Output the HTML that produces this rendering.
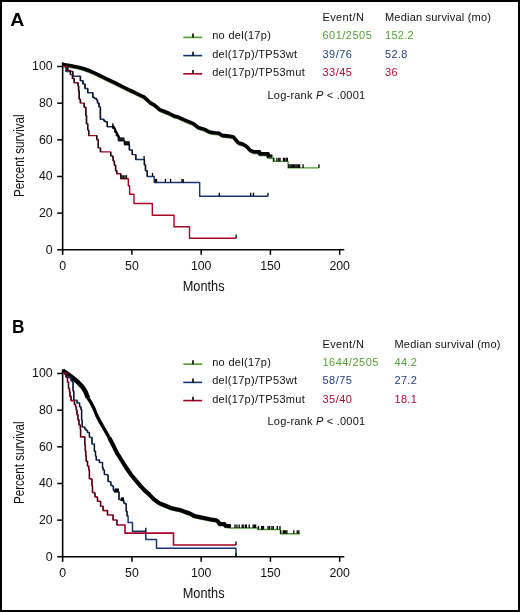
<!DOCTYPE html>
<html><head><meta charset="utf-8"><style>
html,body{margin:0;padding:0;background:#fff;}
body{width:520px;height:612px;overflow:hidden;position:relative;font-family:"Liberation Sans", sans-serif;}
svg{position:absolute;left:0;top:0;will-change:transform;}
svg text{font-family:"Liberation Sans", sans-serif;}
</style></head><body>
<svg width="520" height="612" viewBox="0 0 520 612" fill="#111">
<rect x="1" y="1" width="518" height="610" fill="#fff" stroke="#000" stroke-width="2"/>
<text transform="translate(10.3,25.8) scale(1.06,1)" font-size="18.4" font-weight="bold" style="fill:#000">A</text>
<text transform="translate(12.1,332.9) scale(0.94,1)" font-size="18.4" font-weight="bold" style="fill:#000">B</text>
<path d="M183.3,37.40 H202.2" stroke="#4f9c2c" stroke-width="1.6"/>
<path d="M193,37.40 v-3.9" stroke="#000" stroke-width="1.6"/>
<text x="212.2" y="39.30" font-size="11" letter-spacing="0.3">no del(17p)</text>
<text x="322.4" y="39.30" font-size="11" letter-spacing="0.5" fill="#55a033">601/2505</text>
<text x="385.0" y="39.30" font-size="11" letter-spacing="0.3" fill="#55a033">152.2</text>
<path d="M183.3,55.60 H202.2" stroke="#173570" stroke-width="1.6"/>
<path d="M193,55.60 v-3.9" stroke="#000" stroke-width="1.6"/>
<text x="212.2" y="57.55" font-size="11" letter-spacing="0.3">del(17p)/TP53wt</text>
<text x="322.4" y="57.55" font-size="11" letter-spacing="0.5" fill="#22418a">39/76</text>
<text x="385.0" y="57.55" font-size="11" letter-spacing="0.3" fill="#22418a">52.8</text>
<path d="M183.3,73.80 H202.2" stroke="#a60327" stroke-width="1.6"/>
<path d="M193,73.80 v-3.9" stroke="#000" stroke-width="1.6"/>
<text x="212.2" y="75.80" font-size="11" letter-spacing="0.3">del(17p)/TP53mut</text>
<text x="322.4" y="75.80" font-size="11" letter-spacing="0.5" fill="#ad0d35">33/45</text>
<text x="385.0" y="75.80" font-size="11" letter-spacing="0.3" fill="#ad0d35">36</text>
<text x="322.4" y="21.30" font-size="11" letter-spacing="0.4">Event/N</text>
<text x="385.0" y="21.30" font-size="11" letter-spacing="0.2">Median survival (mo)</text>
<text x="267.5" y="98.50" font-size="11" letter-spacing="0.22">Log-rank <tspan font-style="italic">P</tspan> &lt; .0001</text>
<path d="M183.3,364.20 H202.2" stroke="#4f9c2c" stroke-width="1.6"/>
<path d="M193,364.20 v-3.9" stroke="#000" stroke-width="1.6"/>
<text x="212.2" y="366.10" font-size="11" letter-spacing="0.3">no del(17p)</text>
<text x="322.4" y="366.10" font-size="11" letter-spacing="0.5" fill="#55a033">1644/2505</text>
<text x="394.5" y="366.10" font-size="11" letter-spacing="0.3" fill="#55a033">44.2</text>
<path d="M183.3,382.40 H202.2" stroke="#173570" stroke-width="1.6"/>
<path d="M193,382.40 v-3.9" stroke="#000" stroke-width="1.6"/>
<text x="212.2" y="384.35" font-size="11" letter-spacing="0.3">del(17p)/TP53wt</text>
<text x="322.4" y="384.35" font-size="11" letter-spacing="0.5" fill="#22418a">58/75</text>
<text x="394.5" y="384.35" font-size="11" letter-spacing="0.3" fill="#22418a">27.2</text>
<path d="M183.3,400.60 H202.2" stroke="#a60327" stroke-width="1.6"/>
<path d="M193,400.60 v-3.9" stroke="#000" stroke-width="1.6"/>
<text x="212.2" y="402.60" font-size="11" letter-spacing="0.3">del(17p)/TP53mut</text>
<text x="322.4" y="402.60" font-size="11" letter-spacing="0.5" fill="#ad0d35">35/40</text>
<text x="394.5" y="402.60" font-size="11" letter-spacing="0.3" fill="#ad0d35">18.1</text>
<text x="322.4" y="348.10" font-size="11" letter-spacing="0.4">Event/N</text>
<text x="394.5" y="348.10" font-size="11" letter-spacing="0.2">Median survival (mo)</text>
<text x="267.5" y="425.30" font-size="11" letter-spacing="0.22">Log-rank <tspan font-style="italic">P</tspan> &lt; .0001</text>
<path d="M62.65,62.2 V254.8" stroke="#000" stroke-width="1.6" fill="none"/>
<path d="M57.2,249.8 H344.3" stroke="#000" stroke-width="1.6" fill="none"/>
<text transform="translate(52.6,253.70) scale(0.95,1)" font-size="13" text-anchor="end">0</text>
<path d="M57.2,213.14 H62.65" stroke="#000" stroke-width="1.5"/>
<text transform="translate(52.6,217.04) scale(0.95,1)" font-size="13" text-anchor="end">20</text>
<path d="M57.2,176.48 H62.65" stroke="#000" stroke-width="1.5"/>
<text transform="translate(52.6,180.38) scale(0.95,1)" font-size="13" text-anchor="end">40</text>
<path d="M57.2,139.82 H62.65" stroke="#000" stroke-width="1.5"/>
<text transform="translate(52.6,143.72) scale(0.95,1)" font-size="13" text-anchor="end">60</text>
<path d="M57.2,103.16 H62.65" stroke="#000" stroke-width="1.5"/>
<text transform="translate(52.6,107.06) scale(0.95,1)" font-size="13" text-anchor="end">80</text>
<path d="M57.2,66.50 H62.65" stroke="#000" stroke-width="1.5"/>
<text transform="translate(52.6,70.40) scale(0.95,1)" font-size="13" text-anchor="end">100</text>
<text transform="translate(62.65,270.40) scale(0.95,1)" font-size="13" text-anchor="middle">0</text>
<path d="M131.91,249.8 V254.8" stroke="#000" stroke-width="1.5"/>
<text transform="translate(131.91,270.40) scale(0.95,1)" font-size="13" text-anchor="middle">50</text>
<path d="M201.17,249.8 V254.8" stroke="#000" stroke-width="1.5"/>
<text transform="translate(201.17,270.40) scale(0.95,1)" font-size="13" text-anchor="middle">100</text>
<path d="M270.43,249.8 V254.8" stroke="#000" stroke-width="1.5"/>
<text transform="translate(270.43,270.40) scale(0.95,1)" font-size="13" text-anchor="middle">150</text>
<path d="M339.69,249.8 V254.8" stroke="#000" stroke-width="1.5"/>
<text transform="translate(339.69,270.40) scale(0.95,1)" font-size="13" text-anchor="middle">200</text>
<text transform="translate(203.6,290.5) scale(0.875,1)" font-size="14.6" text-anchor="middle">Months</text>
<text transform="translate(23.7,155.7) rotate(-90) scale(0.775,1)" font-size="15" text-anchor="middle">Percent survival</text>
<path d="M62.65,369.2 V561.8" stroke="#000" stroke-width="1.6" fill="none"/>
<path d="M57.2,556.8 H344.3" stroke="#000" stroke-width="1.6" fill="none"/>
<text transform="translate(52.6,560.70) scale(0.95,1)" font-size="13" text-anchor="end">0</text>
<path d="M57.2,520.14 H62.65" stroke="#000" stroke-width="1.5"/>
<text transform="translate(52.6,524.04) scale(0.95,1)" font-size="13" text-anchor="end">20</text>
<path d="M57.2,483.48 H62.65" stroke="#000" stroke-width="1.5"/>
<text transform="translate(52.6,487.38) scale(0.95,1)" font-size="13" text-anchor="end">40</text>
<path d="M57.2,446.82 H62.65" stroke="#000" stroke-width="1.5"/>
<text transform="translate(52.6,450.72) scale(0.95,1)" font-size="13" text-anchor="end">60</text>
<path d="M57.2,410.16 H62.65" stroke="#000" stroke-width="1.5"/>
<text transform="translate(52.6,414.06) scale(0.95,1)" font-size="13" text-anchor="end">80</text>
<path d="M57.2,373.50 H62.65" stroke="#000" stroke-width="1.5"/>
<text transform="translate(52.6,377.40) scale(0.95,1)" font-size="13" text-anchor="end">100</text>
<text transform="translate(62.65,577.40) scale(0.95,1)" font-size="13" text-anchor="middle">0</text>
<path d="M131.91,556.8 V561.8" stroke="#000" stroke-width="1.5"/>
<text transform="translate(131.91,577.40) scale(0.95,1)" font-size="13" text-anchor="middle">50</text>
<path d="M201.17,556.8 V561.8" stroke="#000" stroke-width="1.5"/>
<text transform="translate(201.17,577.40) scale(0.95,1)" font-size="13" text-anchor="middle">100</text>
<path d="M270.43,556.8 V561.8" stroke="#000" stroke-width="1.5"/>
<text transform="translate(270.43,577.40) scale(0.95,1)" font-size="13" text-anchor="middle">150</text>
<path d="M339.69,556.8 V561.8" stroke="#000" stroke-width="1.5"/>
<text transform="translate(339.69,577.40) scale(0.95,1)" font-size="13" text-anchor="middle">200</text>
<text transform="translate(203.6,597.5) scale(0.875,1)" font-size="14.6" text-anchor="middle">Months</text>
<text transform="translate(23.7,462.7) rotate(-90) scale(0.775,1)" font-size="15" text-anchor="middle">Percent survival</text>
<path d="M62.60,66.30 L64.50,66.65 L69.30,67.40 L74.10,68.30 L78.90,69.30 L83.70,70.70 L88.50,72.40 L93.40,74.50 L98.20,76.70 L103.00,79.15 L107.80,81.50 L114.30,84.60 L119.10,87.00 L123.90,89.40 L128.70,91.80 L133.50,93.90 L138.40,96.40 L141.20,97.80 L143.20,98.50 L148.00,102.80 L149.70,104.50 L154.50,107.20 L159.30,111.50 L164.10,113.40 L168.90,115.40 L173.70,117.80 L178.50,119.20 L183.40,121.60 L188.20,123.60 L193.00,125.50 L197.80,129.30 L199.50,129.80 L204.30,131.30 L209.10,133.90 L213.90,134.70 L218.70,135.10 L221.60,137.30 L228.40,138.00 L233.20,138.90 L235.10,141.40 L238.00,144.70 L242.80,146.20 L246.20,148.10 L248.90,151.10 L250.10,152.40 L253.90,153.80 L259.30,153.80 L259.30,155.80 L267.80,155.80 L267.80,158.30 L272.20,158.30" fill="none" stroke="#4f9c2c" stroke-width="1.0" stroke-linejoin="round" stroke-linecap="butt" /><path d="M62.90,64.40 L64.80,64.75 L69.60,65.50 L74.40,66.40 L79.20,67.40 L84.00,68.80 L88.80,70.50 L93.70,72.60 L98.50,74.80 L103.30,77.25 L108.10,79.60 L114.60,82.70 L119.40,85.10 L124.20,87.50 L129.00,89.90 L133.80,92.00 L138.70,94.50 L141.50,95.90 L143.50,96.60 L148.30,100.90 L150.00,102.60 L154.80,105.30 L159.60,109.60 L164.40,111.50 L169.20,113.50 L174.00,115.90 L178.80,117.30 L183.70,119.70 L188.50,121.70 L193.30,123.60 L198.10,127.40 L199.80,127.90 L204.60,129.40 L209.40,132.00 L214.20,132.80 L219.00,133.20 L221.90,135.40 L228.70,136.10 L233.50,137.00 L235.40,139.50 L238.30,142.80 L243.10,144.30 L246.50,146.20 L249.20,149.20 L250.40,150.50 L254.20,151.90 L259.60,151.90 L259.60,153.90 L268.10,153.90 L268.10,156.40 L272.50,156.40" fill="none" stroke="#000" stroke-width="3.6" stroke-linejoin="round" stroke-linecap="butt" />
<path d="M268.10,158.10 L273.30,158.10 L273.30,161.40 L288.10,161.40 L288.10,167.90 L318.80,167.90" fill="none" stroke="#4f9c2c" stroke-width="1.4" stroke-linejoin="round" stroke-linecap="butt" stroke-linecap="square"/>
<path d="M273.8,161.4 v-3.6" stroke="#000" stroke-width="1.3"/><path d="M276.9,161.4 v-3.6" stroke="#000" stroke-width="1.3"/><path d="M278.8,161.4 v-3.6" stroke="#000" stroke-width="1.3"/><path d="M280,161.4 v-3.6" stroke="#000" stroke-width="1.3"/><path d="M283.5,161.4 v-3.6" stroke="#000" stroke-width="1.3"/><path d="M284.6,161.4 v-3.6" stroke="#000" stroke-width="1.3"/><path d="M286.2,161.4 v-3.6" stroke="#000" stroke-width="1.3"/><path d="M287.3,161.4 v-3.6" stroke="#000" stroke-width="1.3"/>
<path d="M288.8,167.9 v-3.6" stroke="#000" stroke-width="1.3"/><path d="M290,167.9 v-3.6" stroke="#000" stroke-width="1.3"/><path d="M291.2,167.9 v-3.6" stroke="#000" stroke-width="1.3"/><path d="M292.4,167.9 v-3.6" stroke="#000" stroke-width="1.3"/><path d="M293.6,167.9 v-3.6" stroke="#000" stroke-width="1.3"/><path d="M294.8,167.9 v-3.6" stroke="#000" stroke-width="1.3"/><path d="M296,167.9 v-3.6" stroke="#000" stroke-width="1.3"/><path d="M297.2,167.9 v-3.6" stroke="#000" stroke-width="1.3"/><path d="M298.4,167.9 v-3.6" stroke="#000" stroke-width="1.3"/><path d="M299.6,167.9 v-3.6" stroke="#000" stroke-width="1.3"/><path d="M303.1,167.9 v-3.6" stroke="#000" stroke-width="1.3"/><path d="M318.9,167.9 v-3.6" stroke="#000" stroke-width="1.3"/>
<path d="M62.65,66.50 L66.20,66.50 L66.20,71.50 L72.80,71.50 L72.80,76.20 L80.40,76.20 L80.40,80.80 L83.00,80.80 L83.00,84.00 L85.00,84.00 L85.00,88.50 L87.70,88.50 L87.70,92.80 L92.80,92.80 L92.80,97.50 L94.60,97.50 L94.60,98.50 L96.50,98.50 L96.50,100.00 L97.50,100.00 L97.50,103.00 L99.00,103.00 L99.00,106.90 L100.40,106.90 L100.40,119.20 L103.80,119.20 L103.80,120.80 L105.00,120.80 L105.00,121.80 L107.30,121.80 L107.30,126.80 L112.70,126.80 L112.70,128.30 L115.00,128.30 L115.00,132.30 L116.50,132.30 L116.50,135.80 L118.50,135.80 L118.50,140.80 L124.50,140.80 L124.50,144.80 L129.40,144.80 L129.40,150.00 L132.30,150.00 L132.30,154.60 L135.80,154.60 L135.80,159.50 L144.40,159.50 L144.40,165.00 L145.50,165.00 L145.50,170.80 L147.30,170.80 L147.30,176.50 L154.20,176.50 L154.20,182.50 L199.70,182.50 L199.70,196.30 L268.00,196.30" fill="none" stroke="#173570" stroke-width="1.4" stroke-linejoin="round" stroke-linecap="butt" stroke-linecap="square"/>
<path d="M66.20,66.50 V71.50 M72.80,71.50 V76.20 M80.40,76.20 V80.80 M83.00,80.80 V84.00 M85.00,84.00 V88.50 M87.70,88.50 V92.80 M92.80,92.80 V97.50 M94.60,97.50 V98.50 M96.50,98.50 V100.00 M97.50,100.00 V103.00 M99.00,103.00 V106.90 M100.40,106.90 V119.20 M103.80,119.20 V120.80 M105.00,120.80 V121.80 M107.30,121.80 V126.80 M112.70,126.80 V128.30 M115.00,128.30 V132.30 M116.50,132.30 V135.80 M118.50,135.80 V140.80 M124.50,140.80 V144.80 M129.40,144.80 V150.00 M132.30,150.00 V154.60 M135.80,154.60 V159.50 M144.40,159.50 V165.00 M145.50,165.00 V170.80 M147.30,170.80 V176.50" stroke="#111" stroke-width="1.4" fill="none"/>

<path d="M144.1,159.5 v-3.6" stroke="#000" stroke-width="1.3"/><path d="M152.5,176.5 v-3.6" stroke="#000" stroke-width="1.3"/><path d="M155.4,182.5 v-3.6" stroke="#000" stroke-width="1.3"/><path d="M156.5,182.5 v-3.6" stroke="#000" stroke-width="1.3"/><path d="M165.4,182.5 v-3.6" stroke="#000" stroke-width="1.3"/><path d="M170.6,182.5 v-3.6" stroke="#000" stroke-width="1.3"/><path d="M182,182.5 v-3.6" stroke="#000" stroke-width="1.3"/><path d="M183.2,182.5 v-3.6" stroke="#000" stroke-width="1.3"/><path d="M219.3,196.3 v-3.6" stroke="#000" stroke-width="1.3"/><path d="M250.7,196.3 v-3.6" stroke="#000" stroke-width="1.3"/><path d="M253.5,196.3 v-3.6" stroke="#000" stroke-width="1.3"/><path d="M268,196.3 v-3.6" stroke="#000" stroke-width="1.3"/>
<path d="M112.8,126.8 v-3.6" stroke="#000" stroke-width="1.3"/><path d="M119.9,141.0 v-3.6" stroke="#000" stroke-width="1.3"/><path d="M120.9,141.0 v-3.6" stroke="#000" stroke-width="1.3"/><path d="M121.9,141.0 v-3.6" stroke="#000" stroke-width="1.3"/><path d="M122.9,141.0 v-3.6" stroke="#000" stroke-width="1.3"/><path d="M123.9,141.0 v-3.6" stroke="#000" stroke-width="1.3"/><path d="M125.2,144.9 v-3.6" stroke="#000" stroke-width="1.3"/><path d="M126.2,144.9 v-3.6" stroke="#000" stroke-width="1.3"/><path d="M127.2,144.9 v-3.6" stroke="#000" stroke-width="1.3"/><path d="M128.2,144.9 v-3.6" stroke="#000" stroke-width="1.3"/><path d="M129.1,144.9 v-3.6" stroke="#000" stroke-width="1.3"/>
<path d="M112.90,125.60 L114.50,128.50 L116.50,132.50 L118.20,135.80 L119.60,138.60" fill="none" stroke="#000" stroke-width="2.2" stroke-linejoin="round" stroke-linecap="butt" />
<path d="M62.65,66.50 L67.70,66.50 L67.70,70.40 L70.40,70.40 L70.40,74.60 L72.50,74.60 L72.50,78.50 L74.20,78.50 L74.20,82.70 L78.10,82.70 L78.10,86.00 L78.60,86.00 L78.60,90.80 L79.20,90.80 L79.20,99.20 L80.40,99.20 L80.40,103.10 L84.20,103.10 L84.20,107.30 L85.80,107.30 L85.80,115.40 L86.50,115.40 L86.50,123.80 L87.70,123.80 L87.70,130.00 L88.70,130.00 L88.70,135.60 L96.80,135.60 L96.80,139.70 L98.30,139.70 L98.30,147.90 L100.50,147.90 L100.50,151.90 L110.70,151.90 L110.70,156.00 L112.80,156.00 L112.80,157.70 L113.20,157.70 L113.20,160.90 L114.40,160.90 L114.40,165.20 L115.60,165.20 L115.60,170.70 L116.80,170.70 L116.80,173.70 L120.80,173.70 L120.80,178.80 L128.30,178.80 L128.30,185.80 L129.60,185.80 L129.60,194.20 L134.00,194.20 L134.00,203.50 L152.30,203.50 L152.30,215.20 L174.00,215.20 L174.00,226.80 L189.50,226.80 L189.50,238.20 L236.20,238.20" fill="none" stroke="#a60327" stroke-width="1.4" stroke-linejoin="round" stroke-linecap="butt" stroke-linecap="square"/>
<path d="M67.70,66.50 V70.40 M70.40,70.40 V74.60 M72.50,74.60 V78.50 M74.20,78.50 V82.70 M78.10,82.70 V86.00 M78.60,86.00 V90.80 M79.20,90.80 V99.20 M80.40,99.20 V103.10 M84.20,103.10 V107.30 M85.80,107.30 V115.40 M86.50,115.40 V123.80 M87.70,123.80 V130.00 M88.70,130.00 V135.60 M96.80,135.60 V139.70 M98.30,139.70 V147.90 M100.50,147.90 V151.90 M110.70,151.90 V156.00 M112.80,156.00 V157.70 M113.20,157.70 V160.90 M114.40,160.90 V165.20 M115.60,165.20 V170.70 M116.80,170.70 V173.70 M120.80,173.70 V178.80" stroke="#111" stroke-width="1.4" fill="none"/>
<path d="M122,178.8 v-3.6" stroke="#000" stroke-width="1.3"/><path d="M123.5,178.8 v-3.6" stroke="#000" stroke-width="1.3"/><path d="M125,178.8 v-3.6" stroke="#000" stroke-width="1.3"/><path d="M126.5,178.8 v-3.6" stroke="#000" stroke-width="1.3"/><path d="M236.2,238.2 v-3.6" stroke="#000" stroke-width="1.3"/>
<path d="M62.35,372.50 L67.50,376.10 L72.80,380.00 L78.00,384.50 L81.90,388.50 L85.10,393.50 L87.70,399.70 L90.90,404.90 L93.90,410.90 L96.50,417.40 L99.50,423.00 L102.70,428.70 L106.00,434.40 L109.00,439.70 L112.60,446.70 L116.50,454.50 L121.40,462.40 L126.30,470.20 L131.20,477.10 L136.10,483.00 L139.70,487.20 L143.50,491.50 L148.40,495.80 L151.20,498.70 L154.10,501.60 L158.90,505.00 L164.70,507.40 L170.50,509.80 L176.20,511.20 L181.00,512.20 L184.70,513.70 L189.50,515.40 L194.30,518.00 L200.10,519.20 L203.90,519.90 L209.70,521.10 L215.50,522.10 L217.20,522.90 L219.30,525.90 L224.10,525.90 L225.10,527.70 L230.70,528.10" fill="none" stroke="#4f9c2c" stroke-width="1.0" stroke-linejoin="round" stroke-linecap="butt" />
<path d="M109.30,437.80 L112.90,444.80 L116.80,452.60 L121.70,460.50 L126.60,468.30 L131.50,475.20 L136.40,481.10 L140.00,485.30 L143.80,489.60 L148.70,493.90 L151.50,496.80 L154.40,499.70 L159.20,503.10 L165.00,505.50 L170.80,507.90 L176.50,509.30 L181.30,510.30 L185.00,511.80 L189.80,513.50 L194.60,516.10 L200.40,517.30 L204.20,518.00 L210.00,519.20 L215.80,520.20 L217.50,521.00 L219.60,524.00 L224.40,524.00 L225.40,525.80 L231.00,526.20" fill="none" stroke="#000" stroke-width="4.1" stroke-linejoin="round" stroke-linecap="butt" />
<path d="M88.00,397.80 L91.20,403.00 L94.20,409.00 L96.80,415.50 L99.80,421.10 L103.00,426.80 L106.30,432.50 L109.30,437.80" fill="none" stroke="#000" stroke-width="3.3" stroke-linejoin="round" stroke-linecap="butt" />
<path d="M62.65,370.60 L67.80,374.20 L73.10,378.10 L78.30,382.60 L82.20,386.60 L85.40,391.60 L88.00,397.80" fill="none" stroke="#000" stroke-width="4.6" stroke-linejoin="round" stroke-linecap="butt" />
<path d="M230.40,528.00 L257.70,528.00 L257.70,529.50 L280.40,529.50 L280.40,533.80 L300.00,533.80" fill="none" stroke="#4f9c2c" stroke-width="1.4" stroke-linejoin="round" stroke-linecap="butt" stroke-linecap="square"/>
<path d="M235,528.0 v-3.6" stroke="#000" stroke-width="1.3"/><path d="M236.9,528.0 v-3.6" stroke="#000" stroke-width="1.3"/><path d="M239.2,528.0 v-3.6" stroke="#000" stroke-width="1.3"/><path d="M242.2,528.0 v-3.6" stroke="#000" stroke-width="1.3"/><path d="M243.2,528.0 v-3.6" stroke="#000" stroke-width="1.3"/><path d="M245.4,528.0 v-3.6" stroke="#000" stroke-width="1.3"/><path d="M246.4,528.0 v-3.6" stroke="#000" stroke-width="1.3"/><path d="M249.2,528.0 v-3.6" stroke="#000" stroke-width="1.3"/><path d="M253.2,528.0 v-3.6" stroke="#000" stroke-width="1.3"/><path d="M254.4,528.0 v-3.6" stroke="#000" stroke-width="1.3"/><path d="M255.6,528.0 v-3.6" stroke="#000" stroke-width="1.3"/>
<path d="M258.5,529.5 v-3.6" stroke="#000" stroke-width="1.3"/><path d="M261.6,529.5 v-3.6" stroke="#000" stroke-width="1.3"/><path d="M262.3,529.5 v-3.6" stroke="#000" stroke-width="1.3"/><path d="M263.5,529.5 v-3.6" stroke="#000" stroke-width="1.3"/><path d="M268.1,529.5 v-3.6" stroke="#000" stroke-width="1.3"/><path d="M269.6,529.5 v-3.6" stroke="#000" stroke-width="1.3"/><path d="M271.9,529.5 v-3.6" stroke="#000" stroke-width="1.3"/><path d="M273.3,529.5 v-3.6" stroke="#000" stroke-width="1.3"/><path d="M277.3,529.5 v-3.6" stroke="#000" stroke-width="1.3"/><path d="M280,529.5 v-3.6" stroke="#000" stroke-width="1.3"/>
<path d="M280.8,533.8 v-3.6" stroke="#000" stroke-width="1.3"/><path d="M283.3,533.8 v-3.6" stroke="#000" stroke-width="1.3"/><path d="M284.5,533.8 v-3.6" stroke="#000" stroke-width="1.3"/><path d="M285.7,533.8 v-3.6" stroke="#000" stroke-width="1.3"/><path d="M286.9,533.8 v-3.6" stroke="#000" stroke-width="1.3"/><path d="M293.8,533.8 v-3.6" stroke="#000" stroke-width="1.3"/><path d="M297.3,533.8 v-3.6" stroke="#000" stroke-width="1.3"/><path d="M298.8,533.8 v-3.6" stroke="#000" stroke-width="1.3"/>
<path d="M62.65,373.30 L65.90,373.30 L65.90,376.80 L69.20,376.80 L69.20,377.40 L71.10,377.40 L71.10,380.70 L72.40,380.70 L72.40,382.00 L73.10,382.00 L73.10,391.10 L73.80,391.10 L73.80,400.30 L77.00,400.30 L77.00,402.90 L79.60,402.90 L79.60,406.80 L80.90,406.80 L80.90,409.40 L81.60,409.40 L81.60,419.90 L82.20,419.90 L82.20,427.10 L84.80,427.10 L84.80,429.00 L86.10,429.00 L86.10,430.40 L87.50,430.40 L87.50,432.50 L89.40,432.50 L89.40,436.90 L90.00,436.90 L90.00,437.50 L92.00,437.50 L92.00,444.00 L94.40,444.00 L94.40,451.25 L95.50,451.25 L95.50,456.00 L96.25,456.00 L96.25,460.00 L99.40,460.00 L99.40,462.50 L102.50,462.50 L102.50,467.50 L103.10,467.50 L103.10,470.00 L104.40,470.00 L104.40,474.40 L106.90,474.40 L106.90,475.00 L108.10,475.00 L108.10,481.50 L110.10,481.50 L110.10,482.00 L110.90,482.00 L110.90,485.50 L112.60,485.50 L112.60,486.30 L113.40,486.30 L113.40,490.20 L114.40,490.20 L114.40,492.00 L119.00,492.00 L119.00,499.60 L121.25,499.60 L121.25,500.60 L123.75,500.60 L123.75,503.10 L125.00,503.10 L125.00,503.75 L126.25,503.75 L126.25,511.25 L127.00,511.25 L127.00,516.00 L128.10,516.00 L128.10,522.50 L132.50,522.50 L132.50,531.25 L145.80,531.25 L145.80,539.50 L156.50,539.50 L156.50,548.30 L236.00,548.30 L236.00,556.80" fill="none" stroke="#173570" stroke-width="1.5" stroke-linejoin="round" stroke-linecap="butt" stroke-linecap="square"/>
<path d="M65.90,373.30 V376.80 M69.20,376.80 V377.40 M71.10,377.40 V380.70 M72.40,380.70 V382.00 M73.10,382.00 V391.10 M73.80,391.10 V400.30 M77.00,400.30 V402.90 M79.60,402.90 V406.80 M80.90,406.80 V409.40 M81.60,409.40 V419.90 M82.20,419.90 V427.10 M84.80,427.10 V429.00 M86.10,429.00 V430.40 M87.50,430.40 V432.50 M89.40,432.50 V436.90 M90.00,436.90 V437.50 M92.00,437.50 V444.00 M94.40,444.00 V451.25 M95.50,451.25 V456.00 M96.25,456.00 V460.00 M99.40,460.00 V462.50 M102.50,462.50 V467.50 M103.10,467.50 V470.00 M104.40,470.00 V474.40 M106.90,474.40 V475.00 M108.10,475.00 V481.50 M110.10,481.50 V482.00 M110.90,482.00 V485.50 M112.60,485.50 V486.30 M113.40,486.30 V490.20 M114.40,490.20 V492.00 M119.00,492.00 V499.60 M121.25,499.60 V500.60 M123.75,500.60 V503.10 M125.00,503.10 V503.75 M126.25,503.75 V511.25 M127.00,511.25 V516.00" stroke="#111" stroke-width="1.0" fill="none"/>
<path d="M115.3,492 v-3.6" stroke="#000" stroke-width="1.3"/><path d="M116.3,492 v-3.6" stroke="#000" stroke-width="1.3"/><path d="M117.3,492 v-3.6" stroke="#000" stroke-width="1.3"/><path d="M118.3,492 v-3.6" stroke="#000" stroke-width="1.3"/><path d="M121.5,501 v-3.6" stroke="#000" stroke-width="1.3"/><path d="M122.5,501 v-3.6" stroke="#000" stroke-width="1.3"/><path d="M123.4,501 v-3.6" stroke="#000" stroke-width="1.3"/><path d="M145.8,531.25 v-3.6" stroke="#000" stroke-width="1.3"/>
<path d="M62.65,373.30 L66.50,373.30 L66.50,377.40 L67.50,377.40 L67.50,382.00 L68.50,382.00 L68.50,388.50 L69.50,388.50 L69.50,392.00 L70.00,392.00 L70.00,396.40 L71.10,396.40 L71.10,400.60 L74.40,400.60 L74.40,404.20 L75.50,404.20 L75.50,406.80 L76.30,406.80 L76.30,410.00 L77.00,410.00 L77.00,414.70 L78.00,414.70 L78.00,419.90 L79.00,419.90 L79.00,425.00 L80.30,425.00 L80.30,429.00 L80.60,429.00 L80.60,436.90 L84.80,436.90 L84.80,445.00 L85.30,445.00 L85.30,451.25 L85.80,451.25 L85.80,456.00 L86.25,456.00 L86.25,461.25 L87.50,461.25 L87.50,466.00 L88.75,466.00 L88.75,470.00 L89.40,470.00 L89.40,478.75 L91.25,478.75 L91.25,479.40 L92.00,479.40 L92.00,486.00 L92.50,486.00 L92.50,492.50 L94.40,492.50 L94.40,493.10 L95.00,493.10 L95.00,496.90 L96.90,496.90 L96.90,497.50 L97.50,497.50 L97.50,501.25 L100.00,501.25 L100.60,501.25 L100.60,506.25 L102.50,506.25 L103.10,506.25 L103.10,510.60 L107.50,510.60 L107.50,515.00 L112.50,515.00 L113.10,515.00 L113.10,520.00 L115.60,520.00 L116.90,520.00 L116.90,525.00 L125.00,525.00 L125.00,533.10 L173.50,533.10 L173.50,545.00 L236.00,545.00" fill="none" stroke="#a60327" stroke-width="1.6" stroke-linejoin="round" stroke-linecap="butt" stroke-linecap="square"/>
<path d="M66.50,373.30 V377.40 M67.50,377.40 V382.00 M68.50,382.00 V388.50 M69.50,388.50 V392.00 M70.00,392.00 V396.40 M71.10,396.40 V400.60 M74.40,400.60 V404.20 M75.50,404.20 V406.80 M76.30,406.80 V410.00 M77.00,410.00 V414.70 M78.00,414.70 V419.90 M79.00,419.90 V425.00 M80.30,425.00 V429.00 M80.60,429.00 V436.90 M84.80,436.90 V445.00 M85.30,445.00 V451.25 M85.80,451.25 V456.00 M86.25,456.00 V461.25 M87.50,461.25 V466.00 M88.75,466.00 V470.00 M89.40,470.00 V478.75 M91.25,478.75 V479.40 M92.00,479.40 V486.00 M92.50,486.00 V492.50 M94.40,492.50 V493.10 M95.00,493.10 V496.90 M96.90,496.90 V497.50 M97.50,497.50 V501.25 M100.60,501.25 V506.25 M103.10,506.25 V510.60 M107.50,510.60 V515.00 M113.10,515.00 V520.00 M116.90,520.00 V525.00" stroke="#111" stroke-width="0.9" fill="none"/>
<path d="M236,545 v-3.6" stroke="#000" stroke-width="1.3"/><path d="M236,556.8 v-3.6" stroke="#000" stroke-width="1.3"/>
</svg>
</body></html>
